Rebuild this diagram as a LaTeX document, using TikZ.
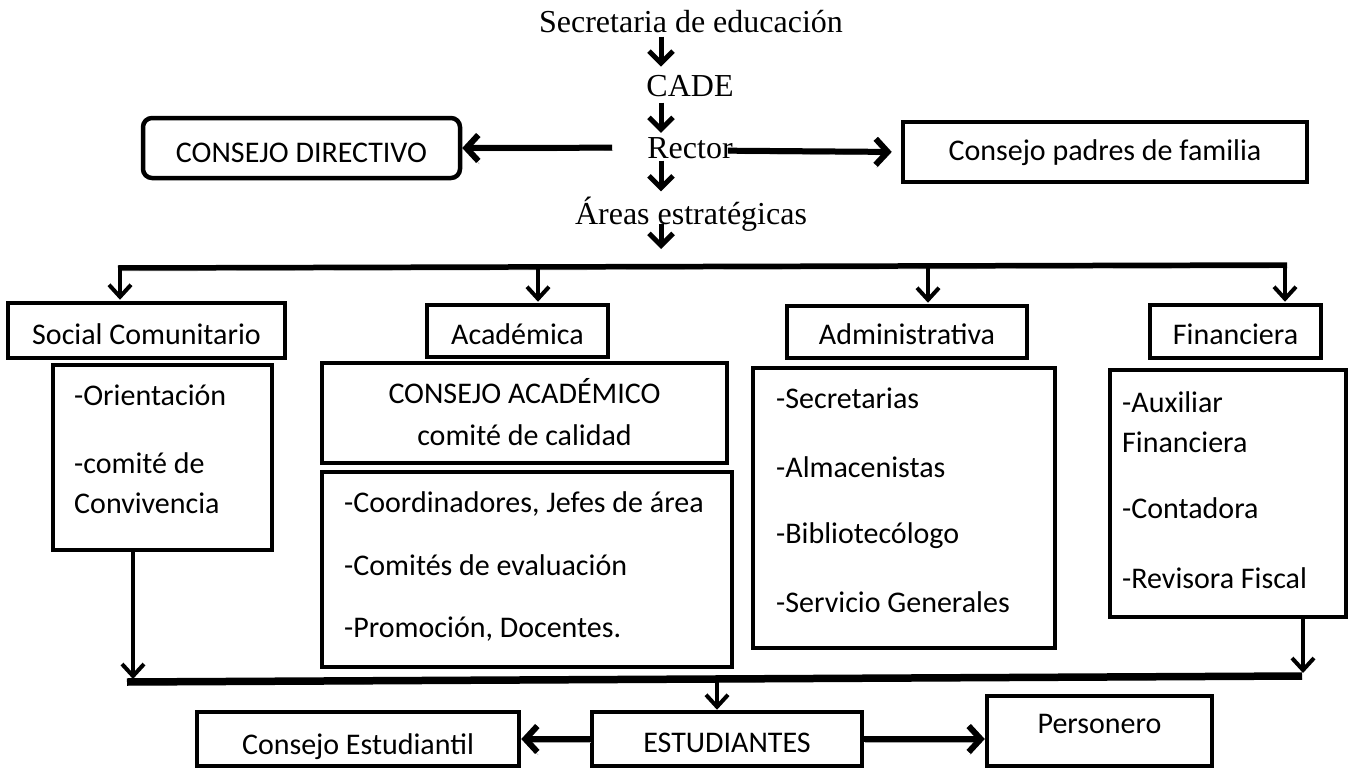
\documentclass[tikz,border=0pt]{standalone}
\usepackage{fontspec}
\setmainfont{Carlito}
\newfontfamily\tnr{Liberation Serif}
\usetikzlibrary{arrows.meta,fit}
\begin{document}
\begin{tikzpicture}[x=1pt,y=-1pt,
  box/.style={draw,line width=4.5pt,inner sep=0pt},
  sans/.style={font=\fontsize{30}{35}\selectfont,inner sep=0pt},
  serif/.style={font=\tnr\fontsize{32}{38}\selectfont,inner sep=0pt},
  arr/.style={line width=5pt,-{Straight Barb[length=12pt,width=24pt]}},
  harr/.style={line width=6pt,-{Straight Barb[length=12pt,width=26pt]}},
  thinarr/.style={line width=4pt,-{Straight Barb[length=12pt,width=22pt]}},
  shad/.style={preaction={draw=black!35,transform canvas={shift={(1pt,-3pt)}}}},
]
\useasboundingbox[fill=white] (0,0) rectangle (1353,768);

% top chain
\node[serif,anchor=base] (sec) at (691,33) {Secretaria de educación};
\node[serif,anchor=base] (cade) at (690,96) {CADE};
\node[serif,anchor=base] (rector) at (690,158) {Rector};
\node[serif,anchor=base] (areas) at (691,224) {Áreas estratégicas};

\draw[arr,shorten <=3pt,shorten >=8pt] ([xshift=-30pt]sec.south) -- ([xshift=-29pt]cade.north);
\draw[arr,shorten <=6pt,shorten >=4pt] ([xshift=-29pt]cade.south) -- ([xshift=-29pt]rector.north);
\draw[arr,shorten <=2pt,shorten >=5pt] ([xshift=-29pt]rector.south) -- ([xshift=-30pt]areas.north);

% side boxes
\node[box,rounded corners=9pt,fit={(143,118) (460,178)}] (dir) {};
\node[sans,anchor=base] (dirt) at (dir.center |- 0,162) {CONSEJO DIRECTIVO};
\node[box,fit={(903,122) (1307,182)}] (padres) {};
\node[sans,anchor=base] (padrest) at (padres.center |- 0,160) {Consejo padres de familia};

\draw[harr,shad] ([xshift=-35pt]rector.west) -- (dir.east);
\draw[harr,shad,shorten >=9pt] ([xshift=-5pt,yshift=-3pt]rector.east) -- (padres.west);

% upper bar
\coordinate (barL) at (118,268);
\coordinate (barR) at (1287,265);
\coordinate (barM) at (661,267);
\draw[arr,shorten >=18pt] ([xshift=-30pt]areas.base) -- (barM);
\draw[line width=5.5pt,shad] (barL) -- (barR);

% area boxes
\node[box,fit={(8,303) (285,358)}] (soc) {};
\node[box,fit={(427,305) (608,357)}] (aca) {};
\node[box,fit={(787,306) (1027,358)}] (adm) {};
\node[box,fit={(1150,305) (1321,358)}] (fin) {};
\node[sans,anchor=base] (soct) at (soc.center |- 0,344) {Social Comunitario};
\node[sans,anchor=base] (acat) at (aca.center |- 0,344) {Académica};
\node[sans,anchor=base] (admt) at (adm.center |- 0,344) {Administrativa};
\node[sans,anchor=base] (fint) at (fin.center |- 0,344) {Financiera};

\coordinate (bS) at (120,268);
\coordinate (bA) at (538,267);
\coordinate (bD) at (928,266);
\coordinate (bF) at (1285,265);
\draw[thinarr,shorten >=1pt] (bS) -- (soc.north -| bS);
\draw[thinarr,shorten >=1pt] (bA) -- (aca.north -| bA);
\draw[thinarr,shorten >=1pt] (bD) -- (adm.north -| bD);
\draw[thinarr,shorten >=1pt] (bF) -- (fin.north -| bF);

% detail boxes
\node[box,fit={(53,365) (272,550)}] (socd) {};
\node[sans,anchor=base west] (s1) at (74,405) {-Orientación};
\node[sans,anchor=base west] (s2) at (74,473) {-comité de};
\node[sans,anchor=base west] (s3) at (74,513) {Convivencia};

\node[box,fit={(322,363) (727,463)}] (acak) {};
\node[sans,anchor=base] (k1) at (acak.center |- 0,403) {CONSEJO ACADÉMICO};
\node[sans,anchor=base] (k2) at (acak.center |- 0,445) {comité de calidad};

\node[box,fit={(322,472) (732,667)}] (acal) {};
\node[sans,anchor=base west] (a1) at (344,512) {-Coordinadores, Jefes de área};
\node[sans,anchor=base west] (a2) at (344,575) {-Comités de evaluación};
\node[sans,anchor=base west] (a3) at (344,637) {-Promoción, Docentes.};

\node[box,fit={(753,368) (1055,648)}] (admd) {};
\node[sans,anchor=base west] (d1) at (776,408) {-Secretarias};
\node[sans,anchor=base west] (d2) at (776,477) {-Almacenistas};
\node[sans,anchor=base west] (d3) at (776,543) {-Bibliotecólogo};
\node[sans,anchor=base west] (d4) at (776,612) {-Servicio Generales};

\node[box,fit={(1110,370) (1346,617)}] (find) {};
\node[sans,anchor=base west] (f1) at (1122,412) {-Auxiliar};
\node[sans,anchor=base west] (f2) at (1122,452) {Financiera};
\node[sans,anchor=base west] (f3) at (1122,518) {-Contadora};
\node[sans,anchor=base west] (f4) at (1122,588) {-Revisora Fiscal};

% lower bar
\coordinate (lbL) at (127,682);
\coordinate (lbR) at (1302,676);
\coordinate (sEnd) at (133,679);
\coordinate (fEnd) at (1303,673);
\coordinate (lbM) at (717,679);
\draw[thinarr] (socd.south -| sEnd) -- (sEnd);
\draw[thinarr] (find.south -| fEnd) -- (fEnd);
\draw[line width=7.5pt,shad] (lbL) -- (lbR);

% bottom boxes
\node[box,fit={(197,712) (519,766)}] (cest) {};
\node[box,fit={(592,712) (862,766)}] (est) {};
\node[box,fit={(987,696) (1212,766)}] (pers) {};
\node[sans,anchor=base] (cestt) at (cest.center |- 0,754) {Consejo Estudiantil};
\node[sans,anchor=base] (estt) at (est.center |- 0,752) {ESTUDIANTES};
\node[sans,anchor=base] (perst) at (pers.center |- 0,733) {Personero};

\draw[thinarr] (lbM) -- (est.north -| lbM);
\draw[harr,shad] (est.west) -- (cest.east);
\draw[harr,shad] (est.east) -- (est.east -| pers.west);
\end{tikzpicture}
\end{document}
